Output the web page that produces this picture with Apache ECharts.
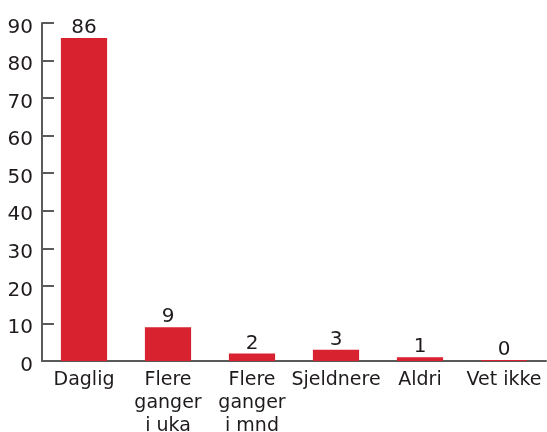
<!DOCTYPE html>
<html>
<head>
<meta charset="utf-8">
<script src="https://cdn.jsdelivr.net/npm/echarts@6/dist/echarts.min.js"></script>
<style>
html, body { margin: 0; padding: 0; background: #fff; }
#chart { width: 547px; height: 432px; }
</style>
</head>
<body>
<div id="chart"></div>
<script>
var categories = ['Daglig', 'Flere\nganger\ni uka', 'Flere\nganger\ni mnd', 'Sjeldnere', 'Aldri', 'Vet ikke'];
var values = [86, 9, 2, 3, 1, 0];
var yTicks = [0, 10, 20, 30, 40, 50, 60, 70, 80, 90];

var axisColor = '#5a5a5a';
var textColor = '#1f1b1c';
var font = 'DejaVu Sans';

var myChart = echarts.init(document.getElementById('chart'));
var option = {
    animation: false,
    grid: { left: 42, right: 1, top: 23, bottom: 71, outerBoundsMode: 'none', containLabel: false },
    xAxis: {
        type: 'category',
        data: categories,
        axisLine: { lineStyle: { color: axisColor, width: 2 } },
        axisTick: { inside: true, length: 9, lineStyle: { color: axisColor, width: 2 } },
        axisLabel: { color: textColor, fontFamily: font, fontSize: 19, lineHeight: 23, margin: 8, interval: 0 }
    },
    yAxis: {
        type: 'value',
        min: yTicks[0],
        max: yTicks[yTicks.length - 1],
        interval: 10,
        splitLine: { show: false },
        axisLine: { show: true, lineStyle: { color: axisColor, width: 2 } },
        axisTick: { show: true, inside: true, length: 12, lineStyle: { color: axisColor, width: 2 } },
        axisLabel: { color: textColor, fontFamily: font, fontSize: 20, margin: 9, verticalAlign: 'top', lineHeight: 9 }
    },
    series: [{
        type: 'bar',
        data: values,
        barWidth: '55%',
        barMinHeight: 1,
        itemStyle: { color: '#d9222f' },
        label: { show: true, position: 'top', distance: 0, color: textColor, fontFamily: font, fontSize: 20 }
    }]
};
myChart.setOption(option);
</script>
</body>
</html>
